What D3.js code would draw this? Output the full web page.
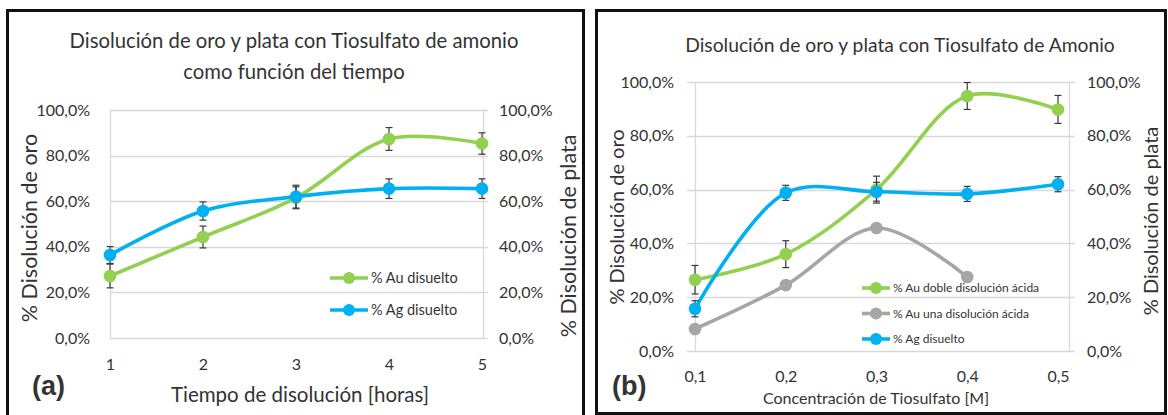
<!DOCTYPE html>
<html>
<head>
<meta charset="utf-8">
<script src="https://cdn.jsdelivr.net/npm/d3@7"></script>
<style>
  html, body { margin: 0; padding: 0; background: #fff; }
  svg { display: block; }
  text { font-family: Lato, "Open Sans", sans-serif; fill: #333; }
</style>
</head>
<body>
<svg id="fig" width="1168" height="415"></svg>
<script>
// Panel (a): dissolution vs time
const timeHours = [1, 2, 3, 4, 5];
const auTime = [0.272, 0.443, 0.615, 0.873, 0.853];
const auTimeErr = [0.052, 0.048, 0.048, 0.05, 0.047];
const agTime = [0.364, 0.557, 0.62, 0.655, 0.655];
const agTimeErr = [0.037, 0.04, 0.05, 0.043, 0.043];

// Panel (b): dissolution vs thiosulfate concentration
const concM = [0.1, 0.2, 0.3, 0.4, 0.5];
const concLabels = ["0,1", "0,2", "0,3", "0,4", "0,5"];
const auDoble = [0.265, 0.36, 0.60, 0.948, 0.898];
const auDobleErr = [0.053, 0.05, 0.05, 0.05, 0.052];
const auUna = [0.082, 0.245, 0.457, 0.275];
const agConc = [0.157, 0.588, 0.592, 0.584, 0.62];
const agConcErr = [0.03, 0.028, 0.035, 0.028, 0.028];

const yTicks = [0, 0.2, 0.4, 0.6, 0.8, 1.0];
const pctFmt = v => d3.format(".1f")(v * 100).replace(".", ",") + "%";

const GREEN = "#92d050", BLUE = "#00b0f0", GRAY = "#a6a6a6";
const svg = d3.select("#fig");

// outer frames
svg.append("rect").attr("x", 7.5).attr("y", 10.5).attr("width", 576).attr("height", 420)
  .attr("fill", "none").attr("stroke", "#111").attr("stroke-width", 3);
svg.append("rect").attr("x", 596.5).attr("y", 10.5).attr("width", 569).attr("height", 403)
  .attr("fill", "none").attr("stroke", "#111").attr("stroke-width", 3);

function panel(cfg) {
  const g = svg.append("g");
  const x = d3.scaleLinear().domain(cfg.xDomain).range(cfg.xRange);
  const y = d3.scaleLinear().domain([0, 1]).range(cfg.yRange);

  // gridlines
  g.append("g").selectAll("line").data(yTicks).join("line")
    .attr("x1", cfg.gridL).attr("x2", cfg.axisR + cfg.tickR)
    .attr("y1", d => Math.round(y(d)) + 0.5).attr("y2", d => Math.round(y(d)) + 0.5)
    .attr("stroke", "#d9d9d9").attr("stroke-width", 1.3);
  // vertical axis lines
  [cfg.axisL, cfg.axisR].forEach(px => {
    g.append("line").attr("x1", px + 0.5).attr("x2", px + 0.5)
      .attr("y1", y(1)).attr("y2", y(0))
      .attr("stroke", "#d9d9d9").attr("stroke-width", 1.3);
  });

  // left and right tick labels
  const yl = d3.axisLeft(y).tickValues(yTicks).tickFormat(pctFmt).tickSize(0);
  const ylg = g.append("g").attr("transform", `translate(${cfg.labelL},0)`).call(yl);
  const yr = d3.axisRight(y).tickValues(yTicks).tickFormat(pctFmt).tickSize(0);
  const yrg = g.append("g").attr("transform", `translate(${cfg.labelR},0)`).call(yr);
  // x tick labels
  const xa = d3.axisBottom(x).tickValues(cfg.xTicks).tickFormat((d, i) => cfg.xLabels[i]).tickSize(0);
  const xag = g.append("g").attr("transform", `translate(0,${cfg.xLabelY})`).call(xa);
  [ylg, yrg, xag].forEach(a => {
    a.select(".domain").remove();
    a.selectAll("text").attr("font-size", cfg.tickFont).attr("fill", "#333")
      .style("font-family", "Lato, 'Open Sans', sans-serif");
  });
  ylg.selectAll("text").attr("dx", 0);
  yrg.selectAll("text").attr("dx", 0);

  // series
  const line = d3.line().x(d => x(d[0])).y(d => y(d[1])).curve(d3.curveCatmullRom.alpha(0.5));
  cfg.series.forEach(s => {
    const pts = s.values.map((v, i) => [cfg.xTicks[i], v]);
    g.append("path").attr("d", line(pts)).attr("fill", "none")
      .attr("stroke", s.color).attr("stroke-width", 3.6).attr("stroke-linecap", "round");
    if (s.err) {
      const eg = g.append("g").attr("stroke", "#3a3a3a").attr("stroke-width", 1.2);
      pts.forEach((p, i) => {
        const cx = x(p[0]), y1 = y(p[1] + s.err[i]), y2 = y(p[1] - s.err[i]);
        eg.append("line").attr("x1", cx).attr("x2", cx).attr("y1", y1).attr("y2", y2);
        eg.append("line").attr("x1", cx - 3.5).attr("x2", cx + 3.5).attr("y1", y1).attr("y2", y1);
        eg.append("line").attr("x1", cx - 3.5).attr("x2", cx + 3.5).attr("y1", y2).attr("y2", y2);
      });
    }
    g.append("g").selectAll("circle").data(pts).join("circle")
      .attr("cx", d => x(d[0])).attr("cy", d => y(d[1])).attr("r", 6.3)
      .attr("fill", s.color);
  });

  // legend
  cfg.series.slice().sort((a, b) => a.legendOrder - b.legendOrder).forEach((s, i) => {
    const ly = cfg.legend.y + i * cfg.legend.dy;
    const lg = g.append("g");
    lg.append("line").attr("x1", cfg.legend.x).attr("x2", cfg.legend.x + cfg.legend.len)
      .attr("y1", ly).attr("y2", ly).attr("stroke", s.color).attr("stroke-width", 3.6);
    lg.append("circle").attr("cx", cfg.legend.x + cfg.legend.len / 2).attr("cy", ly)
      .attr("r", 6).attr("fill", s.color);
    lg.append("text").attr("x", cfg.legend.x + cfg.legend.len + 3).attr("y", ly)
      .attr("dy", "0.35em").attr("font-size", cfg.legend.font).text(s.name);
  });

  // titles
  cfg.title.forEach((t, i) => {
    g.append("text").attr("x", cfg.titleX).attr("y", cfg.titleY + i * cfg.titleDy)
      .attr("text-anchor", "middle").attr("font-size", cfg.titleFont).text(t);
  });
  g.append("text").attr("x", cfg.xTitle.x).attr("y", cfg.xTitle.y)
    .attr("text-anchor", "middle").attr("font-size", cfg.xTitle.font).text(cfg.xTitle.text);
  [cfg.yTitleL, cfg.yTitleR].forEach(t => {
    g.append("text").attr("transform", `translate(${t.x},${t.y}) rotate(-90)`)
      .attr("text-anchor", "middle").attr("dy", "0.35em").attr("font-size", t.font).text(t.text);
  });
  g.append("text").attr("x", cfg.tag.x).attr("y", cfg.tag.y).attr("font-size", 27)
    .attr("font-weight", "bold").style("font-family", "Arial, 'Liberation Sans', sans-serif")
    .attr("fill", "#000").text(cfg.tag.text);
}

panel({
  xDomain: [1, 5], xRange: [110, 482], yRange: [338, 110],
  gridL: 110, axisL: 110, axisR: 483, tickR: 5,
  labelL: 93, labelR: 496, xLabelY: 356, tickFont: 16,
  xTicks: timeHours, xLabels: timeHours.map(String),
  series: [
    { name: "% Au disuelto", color: GREEN, values: auTime, err: auTimeErr, legendOrder: 0 },
    { name: "% Ag disuelto", color: BLUE, values: agTime, err: agTimeErr, legendOrder: 1 }
  ],
  legend: { x: 330, y: 278, dy: 32, len: 38, font: 14.5 },
  title: ["Disolución de oro y plata con Tiosulfato de amonio", "como función del tiempo"],
  titleX: 294, titleY: 48, titleDy: 31, titleFont: 20.3,
  xTitle: { x: 300, y: 402, font: 20.5, text: "Tiempo de disolución [horas]" },
  yTitleL: { x: 29, y: 228, font: 21.5, text: "% Disolución de oro" },
  yTitleR: { x: 568, y: 236, font: 21.5, text: "% Disolución de plata" },
  tag: { x: 32, y: 395, text: "(a)" }
});

// (b): smooth lines for the three series
panel({
  xDomain: [0.1, 0.5], xRange: [695, 1058], yRange: [351, 82],
  gridL: 687, axisL: 695, axisR: 1069, tickR: 6,
  labelL: 677, labelR: 1084, xLabelY: 368, tickFont: 16,
  xTicks: concM, xLabels: concLabels,
  series: [
    { name: "% Au doble disolución ácida", color: GREEN, values: auDoble, err: auDobleErr, legendOrder: 0 },
    { name: "% Au una disolución ácida", color: GRAY, values: auUna, legendOrder: 1 },
    { name: "% Ag disuelto", color: BLUE, values: agConc, err: agConcErr, legendOrder: 2 }
  ],
  legend: { x: 862, y: 288, dy: 25.5, len: 28, font: 12 },
  title: ["Disolución de oro y plata con Tiosulfato de Amonio"],
  titleX: 900, titleY: 52, titleDy: 0, titleFont: 19.3,
  xTitle: { x: 876, y: 404, font: 16, text: "Concentración de Tiosulfato [M]" },
  yTitleL: { x: 617, y: 217, font: 20, text: "% Disolución de oro" },
  yTitleR: { x: 1151, y: 221, font: 20, text: "% Disolución de plata" },
  tag: { x: 612, y: 395, text: "(b)" }
});
</script>
</body>
</html>
